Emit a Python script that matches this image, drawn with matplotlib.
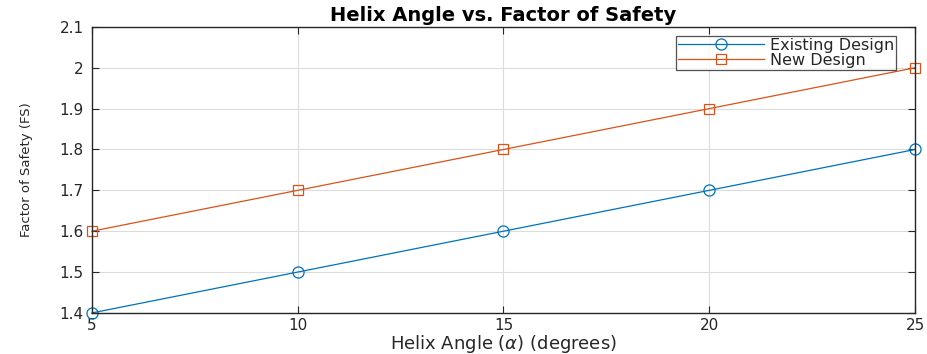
import matplotlib
matplotlib.use("Agg")
import matplotlib.pyplot as plt

helix_angle = [5, 10, 15, 20, 25]
existing_fs = [1.4, 1.5, 1.6, 1.7, 1.8]
new_fs = [1.6, 1.7, 1.8, 1.9, 2.0]
x_ticks = [5, 10, 15, 20, 25]
y_ticks = [1.4, 1.5, 1.6, 1.7, 1.8, 1.9, 2.0, 2.1]
y_tick_labels = ["1.4", "1.5", "1.6", "1.7", "1.8", "1.9", "2", "2.1"]

plt.rcParams["font.family"] = ["DejaVu Sans"]
blue = "#0072BD"
orange = "#D95319"
txt = "#262626"

fig = plt.figure(figsize=(9.28, 3.54), dpi=100)
ax = fig.add_axes([0.099, 0.116, 0.887, 0.808])

ax.plot(helix_angle, existing_fs, color=blue, lw=0.9, marker="o", ms=8,
        mfc="none", mec=blue, mew=0.9, label="Existing Design", clip_on=False)
ax.plot(helix_angle, new_fs, color=orange, lw=0.9, marker="s", ms=6.5,
        mfc="none", mec=orange, mew=0.9, label="New Design", clip_on=False)

ax.set_xlim(5, 25)
ax.set_ylim(1.4, 2.1)
ax.set_xticks(x_ticks)
ax.set_yticks(y_ticks)
ax.set_yticklabels(y_tick_labels)
ax.grid(True, color="#dcdcdc", lw=0.8)
ax.set_axisbelow(True)
ax.tick_params(direction="in", length=5, width=0.8, top=True, right=True,
               labelsize=11, labelcolor=txt, color=txt)
ax.tick_params(axis="y", pad=6)
ax.tick_params(axis="x", pad=4)
for s in ax.spines.values():
    s.set_color(txt)
    s.set_linewidth(1.0)

ax.set_title("Helix Angle vs. Factor of Safety", fontsize=14,
             fontweight="bold", color="black", pad=4)
ax.set_xlabel(r"Helix Angle ($\alpha$) (degrees)", fontsize=13, color=txt,
              labelpad=0)
ax.set_ylabel("Factor of Safety (FS)", fontsize=9.5, color=txt, labelpad=19)

leg = ax.legend(loc="upper right", bbox_to_anchor=(0.977, 0.969),
                fontsize=11.5, frameon=True, fancybox=False, edgecolor=txt,
                handlelength=5.4, borderpad=0.12, labelspacing=0.0,
                handletextpad=0.35, borderaxespad=0)
leg.get_frame().set_linewidth(0.9)
for t in leg.get_texts():
    t.set_color(txt)

fig.savefig("out.png", dpi=100)
